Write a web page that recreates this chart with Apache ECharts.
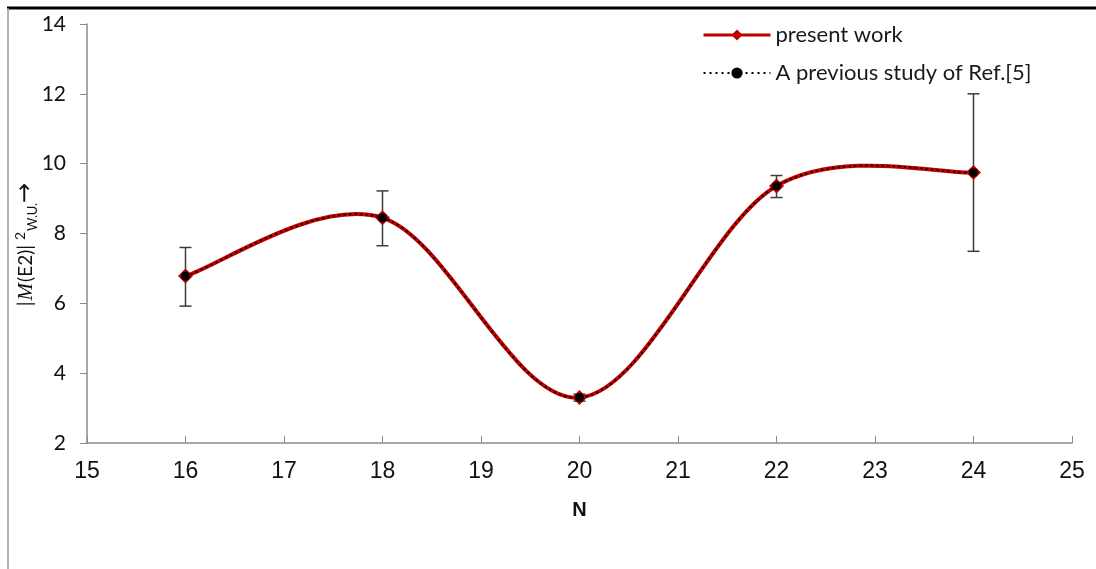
<!DOCTYPE html>
<html>
<head>
<meta charset="utf-8">
<script src="https://cdn.jsdelivr.net/npm/echarts@6/dist/echarts.min.js"></script>
<style>
  html, body { margin: 0; padding: 0; background: #fff; }
  #chart { width: 1096px; height: 569px; }
</style>
</head>
<body>
<div id="chart"></div>
<script>
// Neutron number N and the reduced transition strengths
const neutronN = [16, 18, 20, 22, 24];
const presentWork = [6.78, 8.45, 3.30, 9.36, 9.75];
const previousStudy = [6.78, 8.45, 3.30, 9.36, 9.75];
// experimental error bar limits
const errHigh = [7.60, 9.22, 3.40, 9.66, 12.00];
const errLow = [5.92, 7.65, 3.20, 9.03, 7.49];
// axis ranges
const xRange = [15, 25, 1];
const yRange = [2, 14, 2];

const RED = '#c00000';
const pairs = (ys) => neutronN.map((n, i) => [n, ys[i]]);
const errData = neutronN.map((n, i) => [n, errLow[i], errHigh[i]]);

// Smoothed curve through the data points: cubic Bezier segments whose
// control points follow the neighbouring points (spreadsheet-style smoothing).
function smoothCurve(ys, stroke, width, dash, z) {
  return {
    type: 'custom',
    z: z,
    silent: true,
    data: pairs(ys),
    renderItem: function (params, api) {
      if (params.dataIndex !== 0) return null;
      const p = neutronN.map((n, i) => api.coord([n, ys[i]]));
      let d = 'M' + p[0][0] + ',' + p[0][1];
      for (let i = 0; i < p.length - 1; i++) {
        const p0 = p[i - 1] || p[i], p1 = p[i], p2 = p[i + 1], p3 = p[i + 2] || p[i + 1];
        const c1 = [p1[0] + (p2[0] - p0[0]) / 6, p1[1] + (p2[1] - p0[1]) / 6];
        const c2 = [p2[0] - (p3[0] - p1[0]) / 6, p2[1] - (p3[1] - p1[1]) / 6];
        d += ' C' + c1[0] + ',' + c1[1] + ' ' + c2[0] + ',' + c2[1] + ' ' + p2[0] + ',' + p2[1];
      }
      return {
        type: 'path',
        shape: { pathData: d },
        style: { fill: 'none', stroke: stroke, lineWidth: width, lineDash: dash, lineCap: 'butt' }
      };
    }
  };
}

const chart = echarts.init(document.getElementById('chart'));

chart.setOption({
  animation: false,
  backgroundColor: '#fff',
  grid: { left: 87, right: 24, top: 24, bottom: 126 },
  legend: {
    orient: 'vertical',
    left: 697,
    top: 19,
    itemWidth: 67,
    itemHeight: 14,
    itemGap: 16,
    textStyle: { fontFamily: 'Lato', fontSize: 22, color: '#1a1a1a' },
    data: [
      { name: 'present work', lineStyle: { color: RED, width: 3, type: 'solid', opacity: 1 } },
      { name: 'A previous study of Ref.[5]', lineStyle: { color: '#000', width: 2, type: [2, 4], opacity: 1 } }
    ]
  },
  xAxis: {
    type: 'value',
    min: xRange[0], max: xRange[1], interval: xRange[2],
    name: 'N',
    nameLocation: 'middle',
    nameGap: 57,
    nameTextStyle: { fontFamily: 'Liberation Sans', fontWeight: 'bold', fontSize: 20, color: '#111' },
    axisLine: { lineStyle: { color: '#8a8a8a', width: 1.5 } },
    axisTick: { inside: true, length: 7, lineStyle: { color: '#8a8a8a' } },
    axisLabel: { fontFamily: 'Liberation Sans', fontSize: 23, color: '#111', margin: 17 },
    splitLine: { show: false }
  },
  yAxis: {
    type: 'value',
    min: yRange[0], max: yRange[1], interval: yRange[2],
    axisLine: { show: true, lineStyle: { color: '#8a8a8a', width: 1.5 } },
    axisTick: { show: true, length: 7, lineStyle: { color: '#8a8a8a' } },
    axisLabel: { fontFamily: 'Lato', fontSize: 21, color: '#111', margin: 21 },
    splitLine: { show: false }
  },
  graphic: [
    // outer frame lines
    { type: 'line', shape: { x1: 7, y1: 8, x2: 1096, y2: 8 }, style: { stroke: '#000', lineWidth: 3 } },
    { type: 'line', shape: { x1: 8, y1: 8, x2: 8, y2: 569 }, style: { stroke: '#9a9a9a', lineWidth: 1.5 } },
    // y axis title: |M(E2)|^2_W.U. with an arrow
    {
      type: 'text',
      x: 26, y: 245,
      rotation: Math.PI / 2,
      style: {
        text: '{n||}{m|M}{n|(E2)|}{sup|2}{sub|W.U.}{a|→}',
        align: 'center',
        verticalAlign: 'middle',
        fill: '#111',
        rich: {
          n: { fontFamily: 'Lato', fontSize: 19, lineHeight: 26, verticalAlign: 'middle', padding: [0, 1, 0, 1] },
          m: { fontFamily: 'Liberation Serif', fontStyle: 'italic', fontSize: 21, lineHeight: 26, verticalAlign: 'middle' },
          sup: { fontFamily: 'Lato', fontSize: 14, lineHeight: 14, verticalAlign: 'top', padding: [0, 1, 0, 4] },
          sub: { fontFamily: 'Lato', fontSize: 13, lineHeight: 13, verticalAlign: 'bottom' },
          a: { fontFamily: 'DejaVu Sans', fontSize: 24, lineHeight: 26, verticalAlign: 'middle' }
        }
      }
    }
  ],
  series: [
    {
      name: 'error',
      type: 'custom',
      z: 1,
      silent: true,
      data: errData,
      renderItem: function (params, api) {
        const x = api.value(0);
        const top = api.coord([x, api.value(2)]);
        const bot = api.coord([x, api.value(1)]);
        const half = 6;
        const st = { stroke: '#3c3c3c', lineWidth: 1.5 };
        return {
          type: 'group',
          children: [
            { type: 'line', shape: { x1: top[0], y1: top[1], x2: bot[0], y2: bot[1] }, style: st },
            { type: 'line', shape: { x1: top[0] - half, y1: top[1], x2: top[0] + half, y2: top[1] }, style: st },
            { type: 'line', shape: { x1: bot[0] - half, y1: bot[1], x2: bot[0] + half, y2: bot[1] }, style: st }
          ]
        };
      }
    },
    smoothCurve(presentWork, RED, 4, null, 2),
    {
      name: 'present work',
      type: 'line',
      z: 3,
      data: pairs(presentWork),
      symbol: 'diamond',
      symbolSize: 15,
      itemStyle: { color: RED },
      lineStyle: { color: RED, width: 3, opacity: 0 }
    },
    smoothCurve(previousStudy, '#000', 2, [2, 3.5], 4),
    {
      name: 'A previous study of Ref.[5]',
      type: 'line',
      z: 5,
      data: pairs(previousStudy),
      symbol: 'circle',
      symbolSize: 9,
      itemStyle: { color: '#000' },
      lineStyle: { color: '#000', width: 2, type: [2, 3.5], opacity: 0 }
    }
  ]
});
</script>
</body>
</html>
